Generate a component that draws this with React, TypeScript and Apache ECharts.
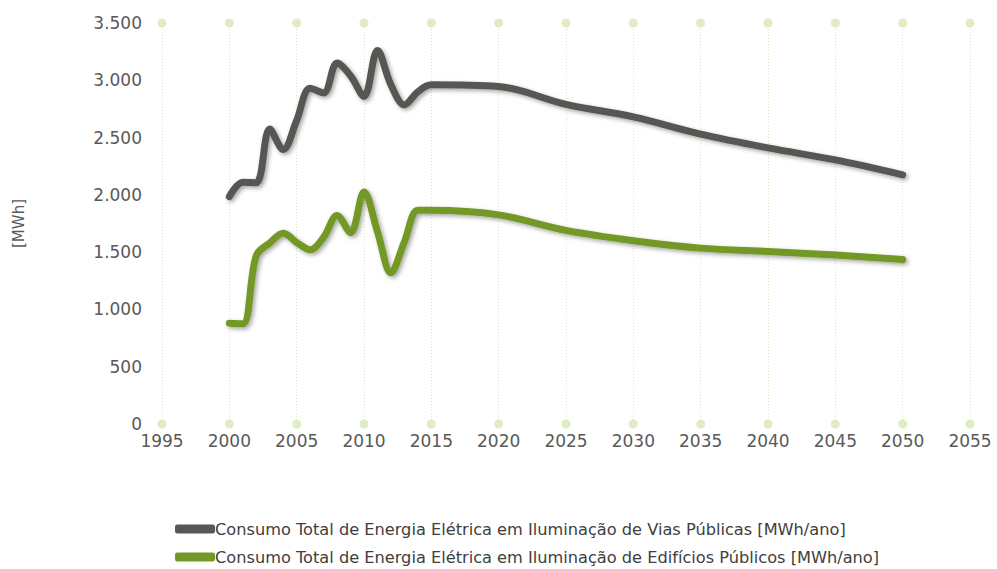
import React, { useEffect, useRef } from "react";
import * as echarts from "echarts";

const years = [2000, 2001, 2002, 2003, 2004, 2005, 2006, 2007, 2008, 2009, 2010, 2011, 2012, 2013, 2014, 2015, 2020, 2025, 2030, 2035, 2040, 2045, 2050];
const viasPublicas = [1985, 2110, 2105, 2575, 2395, 2650, 2930, 2890, 3150, 3040, 2860, 3260, 2960, 2785, 2900, 2960, 2945, 2790, 2680, 2530, 2410, 2305, 2175];
const edificiosPublicos = [880, 875, 1470, 1580, 1665, 1585, 1520, 1630, 1820, 1670, 2025, 1680, 1320, 1590, 1865, 1865, 1825, 1690, 1600, 1535, 1505, 1475, 1435];
const xTicks = [1995, 2000, 2005, 2010, 2015, 2020, 2025, 2030, 2035, 2040, 2045, 2050, 2055];
const yEnds = [0, 3500];
const seriesNames = [
  "Consumo Total de Energia Elétrica em Iluminação de Vias Públicas [MWh/ano]",
  "Consumo Total de Energia Elétrica em Iluminação de Edifícios Públicos [MWh/ano]",
];

const FONT = "'DejaVu Sans', 'Open Sans', sans-serif";

export default function App() {
  const ref = useRef<HTMLDivElement>(null);
  useEffect(() => {
    if (!ref.current) return;
    const chart = echarts.init(ref.current, null, { renderer: "svg" });
    const dots: number[][] = [];
    xTicks.forEach((x) => yEnds.forEach((y) => dots.push([x, y])));
    const legendBase = {
      orient: "horizontal",
      left: 175,
      padding: 0,
      itemWidth: 40,
      itemHeight: 9,
      icon: "roundRect",
      textStyle: { color: "#404040", fontSize: 16.2, fontFamily: FONT, padding: [0, 0, 0, -5] },
    };
    chart.setOption({
      animation: false,
      backgroundColor: "#ffffff",
      grid: { left: 162, right: 27, top: 23, bottom: 145 },
      xAxis: {
        type: "value",
        min: 1995,
        max: 2055,
        interval: 5,
        axisLine: { show: false },
        axisTick: { show: false },
        axisLabel: { color: "#595959", fontSize: 17, fontFamily: FONT, margin: 8, formatter: (v: number) => String(v) },
        splitLine: { show: true, lineStyle: { color: "#dbe9c0", type: [1, 2], width: 1 } },
      },
      yAxis: {
        type: "value",
        min: 0,
        max: 3500,
        interval: 500,
        name: "[MWh]",
        nameLocation: "middle",
        nameGap: 136,
        nameRotate: 90,
        nameTextStyle: { color: "#595959", fontSize: 15, fontFamily: FONT },
        axisLine: { show: false },
        axisTick: { show: false },
        splitLine: { show: false },
        axisLabel: {
          color: "#595959",
          fontSize: 17,
          fontFamily: FONT,
          margin: 20,
          formatter: (v: number) => String(v).replace(/\B(?=(\d{3})+(?!\d))/g, "."),
        },
      },
      legend: [
        { ...legendBase, top: 521, data: [seriesNames[0]] },
        { ...legendBase, top: 549, data: [seriesNames[1]] },
      ],
      series: [
        {
          type: "scatter",
          silent: true,
          symbolSize: 9,
          itemStyle: { color: "#d7e8b4" },
          data: dots,
          z: 1,
        },
        {
          name: seriesNames[0],
          type: "line",
          smooth: 0.35,
          showSymbol: false,
          data: years.map((y, i) => [y, viasPublicas[i]]),
          lineStyle: {
            color: "#585753",
            width: 7,
            cap: "round",
            join: "round",
            shadowColor: "rgba(0,0,0,0.35)",
            shadowBlur: 4,
            shadowOffsetX: 2,
            shadowOffsetY: 2,
          },
          itemStyle: { color: "#585753" },
          z: 3,
        },
        {
          name: seriesNames[1],
          type: "line",
          smooth: 0.35,
          showSymbol: false,
          data: years.map((y, i) => [y, edificiosPublicos[i]]),
          lineStyle: {
            color: "#739828",
            width: 7,
            cap: "round",
            join: "round",
            shadowColor: "rgba(0,0,0,0.35)",
            shadowBlur: 4,
            shadowOffsetX: 2,
            shadowOffsetY: 2,
          },
          itemStyle: { color: "#739828" },
          z: 3,
        },
      ],
    });
    return () => chart.dispose();
  }, []);
  return <div ref={ref} style={{ width: 997, height: 569, position: "absolute", left: 0, top: 0 }} />;
}
